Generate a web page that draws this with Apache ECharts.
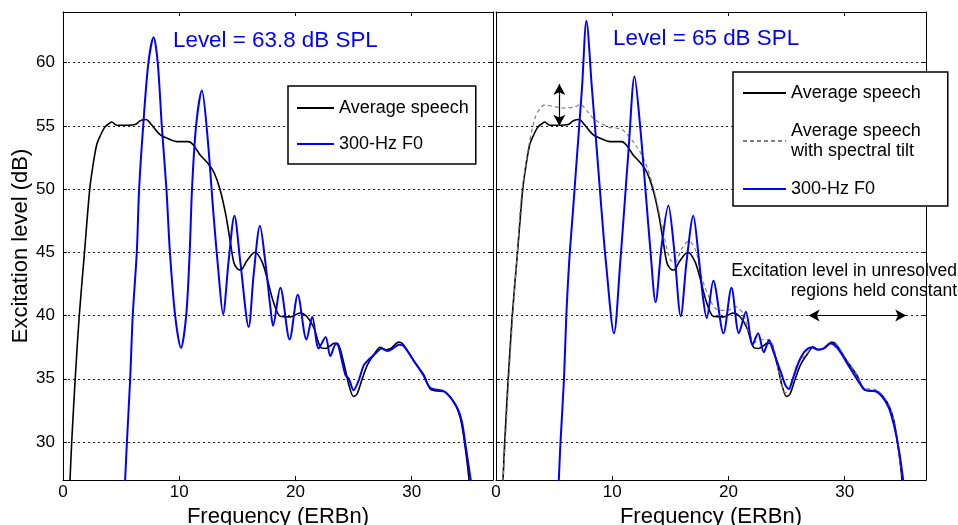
<!DOCTYPE html>
<html>
<head>
<meta charset="utf-8">
<script src="https://cdn.jsdelivr.net/npm/echarts@6/dist/echarts.min.js"></script>
<style>
  html, body { margin: 0; padding: 0; background: #fff; }
  #chart { width: 958px; height: 525px; }
</style>
</head>
<body>
<div id="chart"></div>
<script>
// tick values
var xTicks = [0, 10, 20, 30];
var yTicks = [30, 35, 40, 45, 50, 55, 60];

// [ERBn, dB]
var avgSpeech = [
     [0.6, 26.9], [0.75, 30], [1.05, 35], [1.4, 40], [1.85, 45], [2.3, 50], [2.6, 52], [2.9, 53.5],
     [3.2, 54.2], [3.6, 54.9], [4.0, 55.2], [4.2, 55.3], [4.6, 55.05], [5.5, 55.05], [6.2, 55.1],
     [6.65, 55.4], [7.15, 55.5], [7.6, 55.1], [8.35, 54.3], [9.0, 54.0], [9.8, 53.75], [10.8, 53.75],
     [11.2, 53.5], [11.8, 52.7], [12.5, 52.0], [13.0, 51.3], [13.5, 50.0], [14.0, 48.0], [14.4, 45.8],
     [14.7, 44.2], [15.0, 43.7], [15.3, 43.6], [15.8, 44.3], [16.5, 45.0], [17.1, 44.3], [17.55, 43.0],
     [18.1, 41.1], [18.7, 39.95], [19.6, 39.9], [20.4, 40.2], [21.0, 39.9], [21.6, 39.0], [22.15, 37.5],
     [22.6, 37.4], [23.0, 37.6], [23.3, 37.8], [23.6, 37.8], [24.2, 36.1], [24.6, 34.5], [25.0, 33.6],
     [25.3, 33.8], [25.75, 35.0], [26.2, 36.1], [26.75, 36.9], [27.3, 37.5], [27.8, 37.3], [28.2, 37.4],
     [28.9, 37.9], [29.3, 37.7], [30.2, 36.4], [31.05, 35.3], [31.6, 34.2], [32.0, 34.05], [32.8, 34.0],
     [33.3, 33.6], [33.8, 32.9], [34.2, 31.85], [34.5, 30.3], [34.8, 28.2], [34.95, 26.9]
];
// 300-Hz F0, level 63.8 dB SPL (left)
var f0Left = [
     [5.34, 26.9], [5.5, 30], [5.78, 35], [6.0, 40], [6.35, 45], [6.55, 50], [6.9, 55], [7.35, 60],
     [7.8, 62.0], [8.15, 60], [8.5, 55], [8.9, 50], [9.2, 45], [9.65, 40],
     [10.15, 37.45], [10.6, 40], [10.9, 45], [11.1, 50], [11.45, 55], [11.95, 57.8],
     [12.4, 54.5], [12.95, 48], [13.4, 43.2], [13.77, 40.1], [14.25, 44.3], [14.75, 47.9],
     [15.25, 44.3], [15.98, 39.1], [16.4, 43.2], [16.95, 47.1], [17.4, 44.3], [17.85, 40.6], [18.07, 39.2],
     [18.7, 42.2], [19.5, 38.1], [20.2, 41.65], [20.95, 38.1], [21.45, 39.9], [22.0, 37.4], [22.6, 38.3],
     [23.0, 36.8], [23.5, 37.8], [23.7, 37.6], [24.3, 35.3], [24.6, 35.0], [25.0, 34.1], [25.45, 34.9],
     [25.9, 36.1], [26.4, 36.6], [27.0, 37.1], [27.4, 37.4], [27.9, 37.2], [28.4, 37.4], [28.9, 37.7],
     [29.3, 37.6], [30.2, 36.4], [31.0, 35.3], [31.6, 34.3], [32.8, 34.0], [33.8, 32.9], [34.3, 31.7],
     [34.6, 30.0], [35.1, 26.9]
];
// 300-Hz F0, level 65 dB SPL (right)
var f0Right = [
     [5.4, 26.9], [5.55, 30], [5.85, 35], [6.05, 40], [6.3, 44.3], [6.6, 48], [7.0, 53], [7.4, 58],
     [7.78, 63.3], [8.25, 58], [8.7, 52.8], [9.15, 47.5], [9.45, 44.3],
     [10.15, 38.6], [10.7, 44.3], [11.0, 48], [11.4, 53], [11.92, 58.9],
     [12.4, 55], [12.9, 49.5], [13.3, 45], [13.73, 41.05], [14.25, 45.5], [14.83, 48.7], [15.3, 45.5],
     [15.9, 39.95], [16.4, 44.3], [16.98, 47.9], [17.4, 45], [17.8, 41.5], [18.13, 39.8], [18.7, 42.75],
     [19.57, 38.6], [20.26, 42.2], [20.9, 38.6], [21.5, 40.3], [22.07, 37.7], [22.55, 38.6], [23.04, 37.1],
     [23.5, 38.07], [23.77, 37.4], [24.5, 35.55], [24.9, 34.5], [25.2, 34.2], [25.5, 34.9], [26.06, 36.35],
     [26.6, 37.2], [27.2, 37.5], [27.65, 37.3], [28.2, 37.4], [28.8, 37.8], [29.4, 37.4], [30.5, 35.8],
     [31.4, 34.5], [31.8, 34.1], [32.7, 34.0], [33.7, 32.9], [34.25, 31.3], [34.7, 29.2], [35.05, 26.9]
];
// average speech with spectral tilt (right)
var tiltSpeech = [
     [0.6, 26.9], [0.8, 30], [1.1, 35], [1.45, 40], [1.8, 44.5], [2.2, 49.6], [2.8, 53.3], [3.35, 55.6],
     [3.8, 56.4], [4.2, 56.65], [5.1, 56.5], [5.95, 56.4], [6.8, 56.5], [7.25, 56.7], [7.8, 56.2],
     [8.5, 55.5], [9.7, 54.9], [10.5, 54.8], [11.0, 54.6], [12.0, 53.5], [12.75, 52.3], [13.55, 50.1],
     [14.3, 47.0], [14.7, 45.3], [15.0, 44.4], [15.4, 44.2], [16.0, 45.3], [16.6, 45.9], [17.2, 45.1],
     [17.7, 43.0], [18.5, 41.1], [19.0, 40.5], [19.9, 40.4], [20.6, 40.7], [21.3, 40.1], [21.7, 38.8],
     [22.3, 37.9], [22.9, 38.1], [23.3, 38.1], [23.8, 37.8], [24.35, 35.5], [24.9, 33.9], [25.35, 34.3],
     [25.9, 36.1], [26.75, 37.0], [27.3, 37.55], [27.8, 37.35], [28.2, 37.45], [28.9, 37.95], [29.3, 37.75],
     [30.2, 36.45], [31.05, 35.35], [31.6, 34.3], [32.8, 34.1], [33.8, 32.95], [34.2, 31.9], [34.5, 30.3],
     [34.8, 28.2], [35.0, 26.9]
];
// annotation arrows (right panel)
var tiltArrow = [[5.45, 55], [5.45, 58.3]];
var heldArrow = [[26.9, 40], [35.3, 40]];

var FONT = "'Liberation Sans', Arial, sans-serif";

function xAxes(grid) {
     var bottom = {
          gridIndex: grid, type: 'value', min: 0, max: 37, position: 'bottom',
          axisLine: { onZero: false, lineStyle: { color: '#000', width: 1 } },
          axisTick: { inside: true, length: 4, customValues: xTicks, lineStyle: { color: '#000' } },
          axisLabel: { customValues: xTicks, margin: 4, color: '#000', fontSize: 17, fontFamily: FONT },
          splitLine: { show: false },
          name: 'Frequency (ERBn)', nameLocation: 'middle', nameGap: 23,
          nameTextStyle: { color: '#000', fontSize: 22, fontFamily: FONT }
     };
     var top = {
          gridIndex: grid, type: 'value', min: 0, max: 37, position: 'top',
          axisLine: { onZero: false, lineStyle: { color: '#000', width: 1 } },
          axisTick: { inside: true, length: 4, customValues: xTicks, lineStyle: { color: '#000' } },
          axisLabel: { show: false },
          splitLine: { show: false }
     };
     return [bottom, top];
}

function yAxes(grid, withLabels) {
     var left = {
          gridIndex: grid, type: 'value', min: 27, max: 64, position: 'left',
          axisLine: { onZero: false, lineStyle: { color: '#000', width: 1 } },
          axisTick: { inside: true, length: 4, customValues: yTicks, lineStyle: { color: '#000' } },
          axisLabel: { show: withLabels, customValues: yTicks, margin: 8, color: '#000', fontSize: 17, fontFamily: FONT },
          splitLine: { show: true, lineStyle: { color: '#222', width: 1, type: [2, 3] } }
     };
     if (withLabels) {
          left.name = 'Excitation level (dB)';
          left.nameLocation = 'middle';
          left.nameGap = 29;
          left.nameTextStyle = { color: '#000', fontSize: 22, fontFamily: FONT };
     }
     var right = {
          gridIndex: grid, type: 'value', min: 27, max: 64, position: 'right',
          axisLine: { onZero: false, lineStyle: { color: '#000', width: 1 } },
          axisTick: { inside: true, length: 4, customValues: yTicks, lineStyle: { color: '#000' } },
          axisLabel: { show: false },
          splitLine: { show: false }
     };
     return [left, right];
}

function curve(name, data, xi, color, width, dash) {
     return {
          name: name, type: 'line', xAxisIndex: xi, yAxisIndex: xi,
          data: data, symbol: 'none', smooth: 0.3,
          lineStyle: { color: color, width: width, type: dash || 'solid' },
          itemStyle: { color: color },
          silent: true, animation: false
     };
}

function init() {
     var chart = echarts.init(document.getElementById('chart'), null, { renderer: 'canvas' });
     var legendText = { color: '#000', fontSize: 18, fontFamily: FONT, lineHeight: 20 };
     var arrowLine = { color: '#000', width: 1.2, type: 'solid' };

     var option = {
          backgroundColor: '#fff',
          animation: false,
          grid: [
               { left: 63, top: 12, width: 430, height: 468, show: false, outerBoundsMode: 'none', containLabel: false },
               { left: 496, top: 12, width: 430, height: 468, show: false, outerBoundsMode: 'none', containLabel: false }
          ],
          xAxis: xAxes(0).concat(xAxes(1)),
          yAxis: yAxes(0, true).concat(yAxes(1, false)),
          legend: [{
               left: 288, top: 86, orient: 'vertical',
               data: ['Average speech', '300-Hz F0'],
               itemWidth: 37, itemHeight: 20, itemGap: 16,
               padding: [12, 7, 10, 8],
               itemStyle: { opacity: 0 },
               borderColor: '#000', borderWidth: 1.5, backgroundColor: '#fff',
               textStyle: legendText, selectedMode: false
          }, {
               left: 733, top: 72, orient: 'vertical',
               data: ['Average speech', 'Average speech\nwith spectral tilt', '300-Hz F0'],
               itemWidth: 43, itemHeight: 20, itemGap: 18,
               padding: [11, 27, 7, 9],
               itemStyle: { opacity: 0 },
               borderColor: '#000', borderWidth: 1.5, backgroundColor: '#fff',
               textStyle: legendText, selectedMode: false
          }],
          graphic: [{
               type: 'text', left: 173, top: 30,
               style: { text: 'Level = 63.8 dB SPL', fill: '#0000ff', font: '22.4px ' + FONT }
          }, {
               type: 'text', left: 613, top: 28,
               style: { text: 'Level = 65 dB SPL', fill: '#0000ff', font: '22.4px ' + FONT }
          }, {
               type: 'text', right: 1, top: 262,
               style: { text: 'Excitation level in unresolved', fill: '#000', font: '17.5px ' + FONT }
          }, {
               type: 'text', right: 1, top: 282,
               style: { text: 'regions held constant', fill: '#000', font: '17.5px ' + FONT }
          }],
          series: [
               curve('Average speech', avgSpeech, 0, '#000', 1.6),
               curve('300-Hz F0', f0Left, 0, '#0000ff', 2),
               curve('Average speech', avgSpeech, 2, '#000', 1.6),
               curve('Average speech\nwith spectral tilt', tiltSpeech, 2, '#808080', 1.2, [4, 3]),
               curve('300-Hz F0', f0Right, 2, '#0000ff', 2),
               {
                    type: 'line', xAxisIndex: 2, yAxisIndex: 2, data: [], silent: true,
                    markLine: {
                         silent: true, symbol: ['arrow', 'arrow'], symbolSize: [9, 11],
                         label: { show: false }, lineStyle: arrowLine, animation: false,
                         data: [
                              [{ coord: tiltArrow[0] }, { coord: tiltArrow[1] }],
                              [{ coord: heldArrow[0] }, { coord: heldArrow[1] }]
                         ]
                    }
               }
          ]
     };
     chart.setOption(option);
}
init();
</script>
</body>
</html>
